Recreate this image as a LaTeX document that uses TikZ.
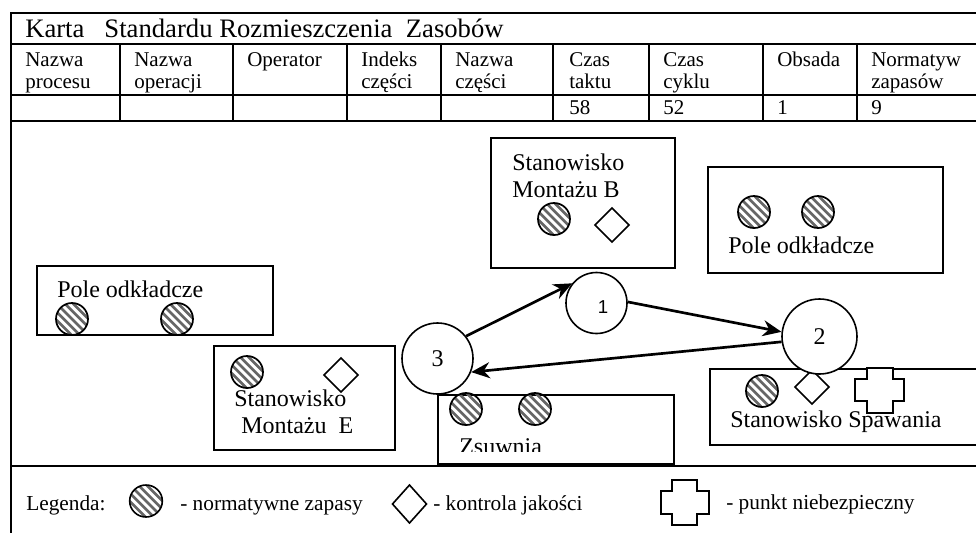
\documentclass[tikz,border=0pt]{standalone}
\usepackage{fontspec}
\setmainfont{Liberation Serif}
\setsansfont{Liberation Sans}
\usetikzlibrary{shapes.geometric,arrows.meta}
\tikzset{
  rule/.style={line width=1.7pt},
  boxn/.style={draw,line width=1.3pt,inner sep=0pt,anchor=north west,fill=white},
  big/.style={font=\fontsize{18}{20}\selectfont,anchor=base west,inner sep=0pt},
  head/.style={font=\fontsize{20}{22}\selectfont,anchor=base west,inner sep=0pt},
  cell/.style={font=\fontsize{15.75}{18}\selectfont,anchor=base west,inner sep=0pt},
  leg/.style={font=\fontsize{16}{18}\selectfont,anchor=base west,inner sep=0pt},
  stripes/.style={path picture={
     \foreach \k in {-5,...,5}
       \draw[line width=1.9pt,black!60]
        ([xshift=\k*6.2pt-20pt,yshift=20pt]path picture bounding box.center) -- ++(40pt,-40pt);}},
  stock/.style={circle,draw,line width=1.3pt,inner sep=0pt,minimum size=24pt,stripes},
  stockleg/.style={ellipse,draw,line width=1.2pt,inner sep=0pt,minimum width=24.5pt,minimum height=24pt,stripes},
  qc/.style={diamond,draw,line width=1.2pt,inner sep=0pt,minimum width=26pt,minimum height=26pt,fill=white},
  stn/.style={circle,draw,line width=1.2pt,inner sep=0pt,fill=white,font=\fontsize{18}{20}\selectfont},
  flow/.style={line width=2pt,-{Stealth[length=14pt,width=12pt]}}
}
\begin{document}
\begin{tikzpicture}[x=0.75pt,y=-0.75pt]
\useasboundingbox (0,0) rectangle (976,533);
% form frame
\draw[rule] (976,13) -- (11,13) -- (11,533);
\draw[rule] (11,44) -- (976,44);
\draw[rule] (11,95) -- (976,95);
\draw[rule] (11,121) -- (976,121);
\draw[rule] (11,466) -- (976,466);
\foreach \c in {120,233,347,441,553,649,763,857}
  \draw[rule] (\c,44) -- (\c,121);
% title + table
\node[head] (title) at (25,37) {Karta\ \ \ Standardu Rozmieszczenia\ \ Zasobów};
\node[cell] (h1a) at (25,66) {Nazwa};      \node[cell] (h1b) at (25,88) {procesu};
\node[cell] (h2a) at (134,66) {Nazwa};     \node[cell] (h2b) at (134,88) {operacji};
\node[cell] (h3a) at (247,66) {Operator};
\node[cell] (h4a) at (361,66) {Indeks};    \node[cell] (h4b) at (361,88) {części};
\node[cell] (h5a) at (455,66) {Nazwa};     \node[cell] (h5b) at (455,88) {części};
\node[cell] (h6a) at (569,66) {Czas};      \node[cell] (h6b) at (569,88) {taktu};
\node[cell] (h7a) at (663,66) {Czas};      \node[cell] (h7b) at (663,88) {cyklu};
\node[cell] (h8a) at (777,66) {Obsada};
\node[cell] (h9a) at (871,66) {Normatyw};  \node[cell] (h9b) at (871,88) {zapasów};
\node[cell] (v6) at (569,114) {58};
\node[cell] (v7) at (663,114) {52};
\node[cell] (v8) at (777,114) {1};
\node[cell] (v9) at (871,114) {9};
% boxes
\node[boxn,minimum width=138pt,minimum height=97.5pt] (bB) at (490,137) {};
\node[boxn,minimum width=176.25pt,minimum height=79.5pt] (bP) at (707,166) {};
\node[boxn,minimum width=177pt,minimum height=51.75pt] (bL) at (36,265) {};
\node[boxn,minimum width=135.75pt,minimum height=78pt] (bE) at (213,345) {};
\node[boxn,minimum width=177pt,minimum height=51.75pt] (bZ) at (437,394) {};
\node[boxn,minimum width=200.25pt,minimum height=57pt] (bS) at (709,368) {};
% box contents
\node[big] (tB1) at (512,170) {Stanowisko};
\node[big] (tB2) at (512,197) {Montażu B};
\node[stock] (sB) at (554,219) {};
\node[qc] (qB) at (612,225) {};
\node[stock] (sP1) at (754,212) {};
\node[stock] (sP2) at (818,212) {};
\node[big] (tP) at (728,253) {Pole odkładcze};
\node[big] (tL) at (57,297) {Pole odkładcze};
\node[stock] (sL1) at (72,319) {};
\node[stock] (sL2) at (177,319) {};
\node[stock] (sE) at (247,372) {};
\node[qc] (qE) at (341,375) {};
\node[big] (tE1) at (234,406) {Stanowisko};
\node[big] (tE2) at (241,433) {Montażu\ \ E};
\node[stock] (sZ1) at (466,409) {};
\node[stock] (sZ2) at (535,409) {};
\begin{scope}
  \clip (440,430) rectangle (670,451.5);
  \node[big] (tZ) at (459,454) {Zsuwnia};
\end{scope}
\node[stock] (sS) at (762,391) {};
\node[qc] (qS) at (812,387) {};
\draw[line width=1.3pt,fill=white] (867,368) -- (893,368) -- (893,379) -- (904,379) -- (904,401) -- (893,401) -- (893,413) -- (867,413) -- (867,401) -- (855,401) -- (855,379) -- (867,379) -- cycle;
\node[big] (tS) at (730,427) {Stanowisko Spawania};
% stations
\node[stn,minimum size=45.75pt] (n1) at (596.5,303) {};
\node[font=\sffamily\fontsize{14}{16}\selectfont,anchor=base,inner sep=0pt] (n1t) at (603,313) {1};
\node[stn,minimum size=56.25pt] (n2) at (819.5,336.5) {2};
\node[stn,minimum size=53.25pt] (n3) at (437.5,358.5) {3};
\draw[flow] (n3.38) -- (n1.141);
\draw[flow] (n1.2) -- (n2.173);
\draw[flow] (n2.188) -- (n3.-22);
% legend
\node[leg] (lg) at (26,510) {Legenda:};
\node[stockleg] (ls) at (146,501) {};
\node[leg] (l1) at (180,510) {- normatywne zapasy};
\node[qc,minimum width=26pt,minimum height=29pt] (lq) at (409.5,504) {};
\node[leg] (l2) at (433,510) {- kontrola jakości};
\draw[line width=1.4pt] (672,480) -- (697,480) -- (697,491) -- (709,491) -- (709,514) -- (697,514) -- (697,525) -- (672,525) -- (672,514) -- (661,514) -- (661,491) -- (672,491) -- cycle;
\node[leg] (l3) at (726,509) {- punkt niebezpieczny};
\end{tikzpicture}
\end{document}
